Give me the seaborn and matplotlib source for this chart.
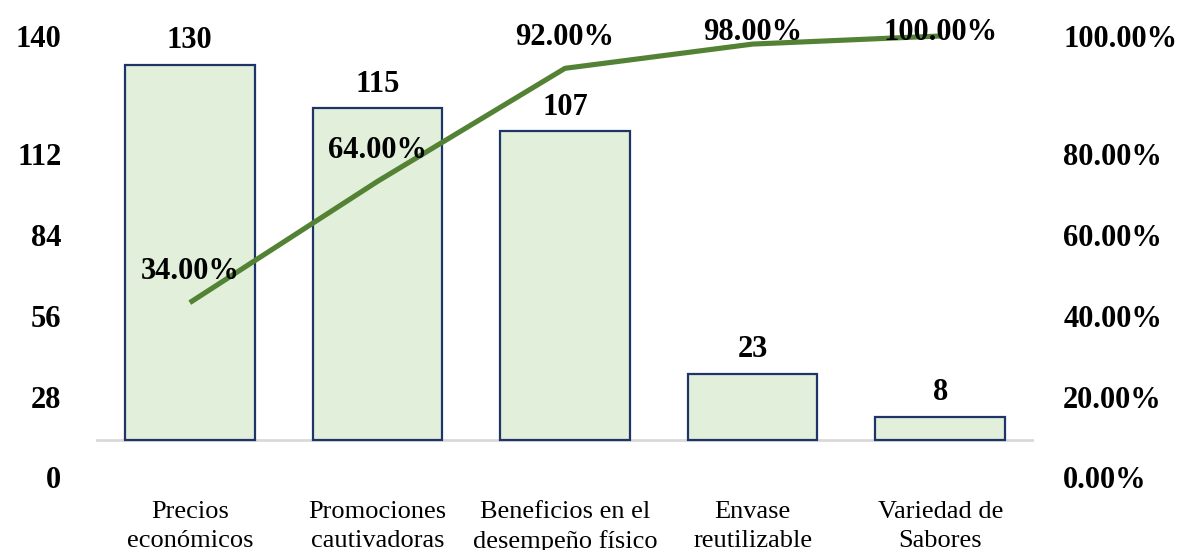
import matplotlib
matplotlib.use("Agg")
import matplotlib.pyplot as plt
import seaborn as sns
import pandas as pd

categories = ["Precios\necon\u00f3micos", "Promociones\ncautivadoras",
              "Beneficios en el\ndesempe\u00f1o f\u00edsico", "Envase\nreutilizable",
              "Variedad de\nSabores"]
counts = [130, 115, 107, 23, 8]
cum_pct = [34.00, 64.00, 92.00, 98.00, 100.00]
left_ticks = [0, 28, 56, 84, 112, 140]
right_ticks = [0, 20, 40, 60, 80, 100]

sns.set_theme(style="white")
plt.rcParams["font.family"] = ["Liberation Serif", "DejaVu Serif"]
plt.rcParams["text.color"] = "black"
plt.rcParams["xtick.color"] = "black"
plt.rcParams["ytick.color"] = "black"

df = pd.DataFrame({"cat": categories, "count": counts, "pct": cum_pct})

W, H = 1182, 550
fig = plt.figure(figsize=(W / 100, H / 100), dpi=100)
ax_left, ax_right_px, ax_top, ax_bot = 96, 1034, 20, 500
ax = fig.add_axes([ax_left / W, 1 - ax_bot / H, (ax_right_px - ax_left) / W, (ax_bot - ax_top) / H])

base_px = 440
px_per_unit = (base_px - 36) / 140
px_per_pct = (base_px - 36) / 100

sns.barplot(data=df, x="cat", y="count", ax=ax, color="#E2EFDA",
            edgecolor="#1F3468", linewidth=1.6, width=0.69, saturation=1)
ax.set_xlim(-0.5, len(categories) - 0.5)
ax.set_ylim(-(ax_bot - base_px) / px_per_unit, (base_px - ax_top) / px_per_unit)
ax.axhline(0, color="#D9D9D9", lw=2, zorder=0.5)

for i, v in enumerate(counts):
    ax.annotate(f"{v}", (i, v), xytext=(0, 24 * 0.72), textcoords="offset points",
                ha="center", va="center", fontsize=22, fontweight="bold", color="black")

# tick labels (the reference places all but the top label ~37 px lower)
shift_l = 37.5 / px_per_unit
lt_pos = [t - shift_l if t != left_ticks[-1] else t for t in left_ticks]
ax.set_yticks(lt_pos)
ax.set_yticklabels([str(t) for t in left_ticks], fontsize=22, fontweight="bold", color="black")
ax.tick_params(axis="y", length=0, pad=25)
ax.tick_params(axis="x", length=0, pad=1)
ax.set_xticks(range(len(categories)))
ax.set_xticklabels(categories, fontsize=19, linespacing=1.36, color="black")
ax.set_xlabel("")
ax.set_ylabel("")
for s in ax.spines.values():
    s.set_visible(False)

ax2 = ax.twinx()
ax2.set_ylim(-(ax_bot - base_px) / px_per_pct, (base_px - ax_top) / px_per_pct)
sns.lineplot(x=list(range(len(categories))), y=cum_pct, ax=ax2, color="#548235",
             lw=3.7, solid_capstyle="butt")
cap = (base_px - 32) / px_per_pct
for i, p in enumerate(cum_pct):
    ly = min(p + 31 / px_per_pct, cap)
    ax2.text(i, ly, f"{p:.2f}%", ha="center", va="center", fontsize=22,
             fontweight="bold", color="black")
shift_r = 37.5 / px_per_pct
rt_pos = [t - shift_r if t != right_ticks[-1] else t for t in right_ticks]
ax2.set_yticks(rt_pos)
ax2.set_yticklabels([f"{t:.2f}%" for t in right_ticks], fontsize=22, fontweight="bold", color="black")
ax2.tick_params(axis="y", length=0, pad=21)
ax2.set_ylabel("")
for s in ax2.spines.values():
    s.set_visible(False)
ax2.grid(False)
ax.grid(False)

fig.savefig("out.png", dpi=100)
